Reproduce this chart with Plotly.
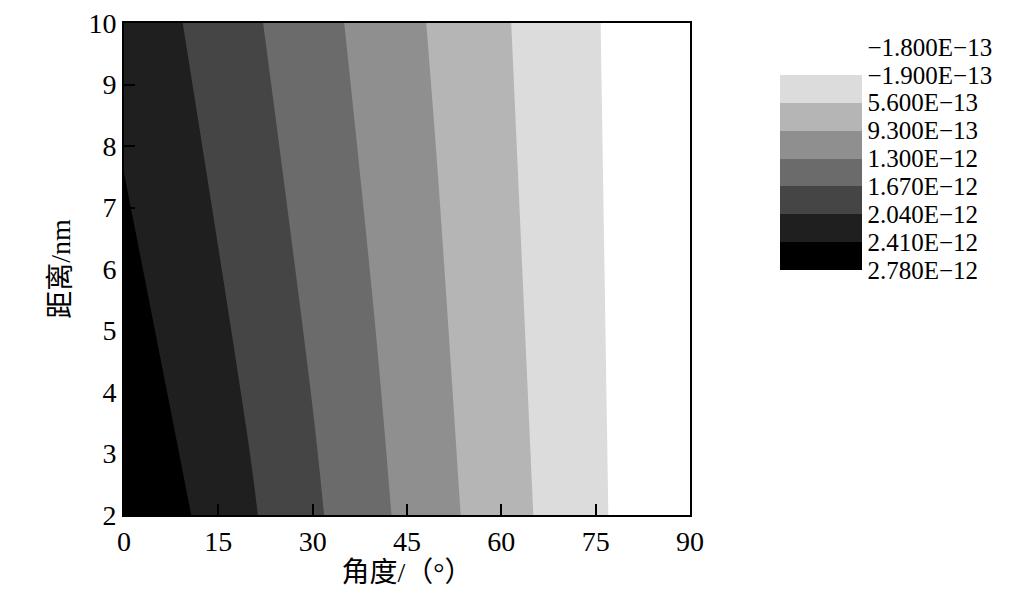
import numpy as np
import plotly.graph_objects as go

# angle (deg) and distance (nm) grid of the contour map
angle = [0, 10, 20, 30, 40, 50, 60, 70, 80, 90]
distance = [2, 10]

# field values in units of 1e-12
z_d2 = [2.775, 2.434, 2.085, 1.733, 1.386, 1.045, 0.719, 0.406, 0.098, -0.20]
z_d10 = [2.25, 2.025, 1.731, 1.443, 1.158, 0.875, 0.601, 0.340, 0.081, -0.18]

# contour levels (1e-12) and the legend labels as printed
levels = [-0.18, 0.19, 0.56, 0.93, 1.30, 1.67, 2.04, 2.41, 2.78]
level_labels = ["−1.800E−13", "−1.900E−13", "5.600E−13", "9.300E−13", "1.300E−12",
                "1.670E−12", "2.040E−12", "2.410E−12", "2.780E−12"]

FONT = "Liberation Serif, Times New Roman, Noto Sans CJK SC"

z = np.array([z_d2, z_d10]) * 1e-12
# the legend runs from the lowest value at the top, so plot the negated field
w = -z
lev = -np.array(levels) * 1e-12
step = 0.37e-12

# one colour per band, sampled at the band centres; the outer ends stay white
grays = ["#ffffff", "#000000", "#1f1f1f", "#454545", "#6b6b6b",
         "#8f8f8f", "#b5b5b5", "#dcdcdc", "#ffffff", "#ffffff"]
colorscale = [[i / (len(grays) - 1), c] for i, c in enumerate(grays)]

fig = go.Figure(go.Contour(
    x=angle,
    y=distance,
    z=w,
    colorscale=colorscale,
    contours=dict(start=lev.min(), end=lev.max(), size=step, coloring="fill"),
    line=dict(width=0),
    colorbar=dict(
        tickvals=list(lev),
        ticktext=level_labels,
        ticks="",
        outlinewidth=0,
        thickness=82,
        len=0.510,
        lenmode="fraction",
        x=1.159,
        xanchor="left",
        xpad=0,
        y=0.7246,
        yanchor="middle",
        ypad=0,
        tickfont=dict(family=FONT, size=25, color="black"),
    ),
))

# page body adds an 8px offset, so margins are trimmed to match
fig.update_layout(
    width=1004,
    height=593,
    paper_bgcolor="white",
    plot_bgcolor="white",
    margin=dict(l=116, r=322, t=15, b=86, autoexpand=False),
    font=dict(family=FONT, size=27, color="black"),
)
fig.update_xaxes(
    range=[0, 90],
    tickvals=[0, 15, 30, 45, 60, 75, 90],
    ticks="inside",
    ticklen=11,
    tickwidth=2,
    tickcolor="black",
    tickfont=dict(family=FONT, size=28, color="black"),
    ticklabeloverflow="allow",
    automargin=False,
    showline=True,
    linecolor="black",
    linewidth=2,
    mirror=True,
    showgrid=False,
    zeroline=False,
    title=dict(text="角度/（°）", standoff=6, font=dict(size=28)),
)
fig.update_yaxes(
    range=[2, 10],
    tickvals=[2, 3, 4, 5, 6, 7, 8, 9, 10],
    ticks="inside",
    ticklen=11,
    tickwidth=2,
    tickcolor="black",
    tickfont=dict(family=FONT, size=28, color="black"),
    ticklabeloverflow="allow",
    automargin=False,
    showline=True,
    linecolor="black",
    linewidth=2,
    mirror=True,
    showgrid=False,
    zeroline=False,
    title=dict(text="距离/nm", standoff=10, font=dict(size=28)),
)

fig.write_html("out.html")
